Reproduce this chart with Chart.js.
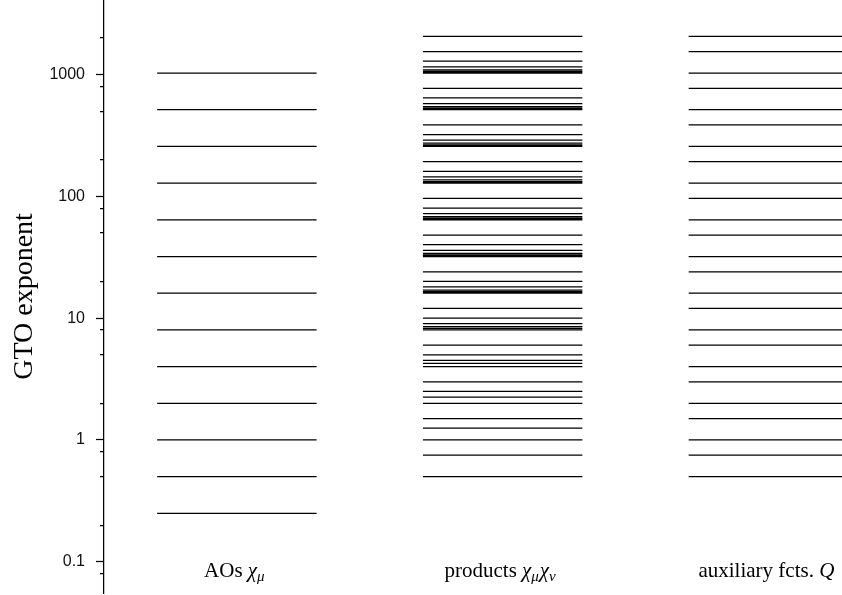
<!DOCTYPE html>
<html><head><meta charset="utf-8">
<script src="https://cdn.jsdelivr.net/npm/chart.js@4.4.0/dist/chart.umd.min.js"></script>
<style>html,body{margin:0;padding:0;background:#fff;overflow:hidden}#wrap{width:842px;height:595px}</style>
</head><body><div id="wrap"><canvas id="c" width="842" height="595"></canvas></div>
<script>
// ---- data ----
const categories = ['AOs', 'products', 'auxiliary fcts.'];
const aoExponents = [0.25, 0.5, 1, 2, 4, 8, 16, 32, 64, 128, 256, 512, 1024];
const productExponents = [0.5, 0.75, 1, 1.25, 1.5, 2, 2.25, 2.5, 3, 4, 4.25, 4.5, 5, 6, 8,
  8.25, 8.5, 9, 10, 12, 16, 16.25, 16.5, 17, 18, 20, 24, 32,
  32.25, 32.5, 33, 34, 36, 40, 48, 64, 64.25, 64.5, 65, 66, 68, 72, 80, 96, 128,
  128.25, 128.5, 129, 130, 132, 136, 144, 160, 192, 256,
  256.25, 256.5, 257, 258, 260, 264, 272, 288, 320, 384, 512,
  512.25, 512.5, 513, 514, 516, 520, 528, 544, 576, 640, 768, 1024,
  1024.25, 1024.5, 1025, 1026, 1028, 1032, 1040, 1056, 1088, 1152, 1280, 1536, 2048];
const auxExponents = [0.5, 0.75, 1, 1.5, 2, 3, 4, 6, 8, 12, 16, 24, 32, 48, 64, 96, 128, 192, 256, 384, 512, 768, 1024, 1536, 2048];
const yMajorTicks = [0.1, 1, 10, 100, 1000];
const yTickLabels = ['0.1', '1', '10', '100', '1000'];
const yMinorTicks = [0.08, 0.2, 0.5, 0.8, 2, 5, 8, 20, 50, 80, 200, 500, 800, 2000];
const yAxisTitle = 'GTO exponent';
// label pieces: r = roman, i = math italic, s = italic subscript
const categoryLabels = [
  [['AOs ', 'r'], ['χ', 'i'], ['μ', 's']],
  [['products ', 'r'], ['χ', 'i'], ['μ', 's'], ['χ', 'i'], ['ν', 's']],
  [['auxiliary fcts. ', 'r'], ['Q', 'i']]
];
const seriesValues = [aoExponents, productExponents, auxExponents];

// ---- build line segments through the scales ----
const HALF = 0.3;
function segments(values, c) {
  const pts = [];
  values.forEach(v => { pts.push({x: c - HALF, y: v}, {x: c + HALF, y: v}, {x: c, y: null}); });
  return pts;
}
const datasets = seriesValues.map((vals, i) => ({
  label: categories[i],
  data: segments(vals, i + 1),
  showLine: true, spanGaps: false, fill: false,
  borderColor: '#000', borderWidth: 1.25,
  pointRadius: 0, pointHoverRadius: 0
}));

const SERIF = '"Liberation Serif", "Times New Roman", serif';
function fontFor(kind) {
  if (kind === 'r') return '21px ' + SERIF;
  if (kind === 'i') return 'italic 21px ' + SERIF;
  return 'italic 15px ' + SERIF;
}
const catLabelPlugin = {
  id: 'catLabels',
  afterDraw(chart) {
    const ctx = chart.ctx, xs = chart.scales.x, area = chart.chartArea;
    const y = area.bottom - 16;
    categoryLabels.forEach((parts, i) => {
      const cx = xs.getPixelForValue(i + 1);
      let total = 0;
      parts.forEach(p => { ctx.font = fontFor(p[1]); total += ctx.measureText(p[0]).width + (p[1] === 's' ? 1 : 0); });
      let x = cx - total / 2 - 2;
      ctx.save();
      ctx.fillStyle = '#000'; ctx.textAlign = 'left'; ctx.textBaseline = 'alphabetic';
      parts.forEach(p => {
        ctx.font = fontFor(p[1]);
        ctx.fillText(p[0], x, y + (p[1] === 's' ? 4 : 0));
        x += ctx.measureText(p[0]).width + (p[1] === 's' ? 1 : 0);
      });
      ctx.restore();
    });
  }
};

new Chart(document.getElementById('c'), {
  type: 'scatter',
  data: { datasets },
  options: {
    responsive: false, animation: false, devicePixelRatio: 1,
    layout: { padding: { left: 0, right: 0, top: 0, bottom: 2 } },
    plugins: { legend: { display: false }, tooltip: { enabled: false } },
    events: [],
    scales: {
      x: { type: 'linear', min: 0.5, max: 3.277, display: false },
      y: {
        type: 'logarithmic', position: 'left', min: 0.05556, max: 4070, bounds: 'data',
        afterBuildTicks: s => {
          s.ticks = [...yMinorTicks, ...yMajorTicks].sort((a, b) => a - b).map(v => ({ value: v }));
        },
        afterFit: s => { s.width = 104; s.paddingTop = 0; s.paddingBottom = 0; },
        ticks: {
          autoSkip: false, padding: 11, color: '#111',
          font: { family: '"Liberation Sans", Arial, sans-serif', size: 16 },
          callback: v => { const k = yMajorTicks.indexOf(v); return k >= 0 ? yTickLabels[k] : ''; }
        },
        grid: {
          drawOnChartArea: false, drawTicks: true, tickLength: 8, tickColor: '#000', tickWidth: 1.25,
          tickBorderDash: c => (c.tick && yMajorTicks.includes(c.tick.value)) ? [] : [0, 4, 4, 100]
        },
        border: { display: true, color: '#000', width: 1.25 },
        title: { display: true, text: yAxisTitle, color: '#000', font: { family: SERIF, size: 28 }, padding: { top: 8, bottom: 0 } }
      }
    }
  },
  plugins: [catLabelPlugin]
});
</script>
</body></html>
